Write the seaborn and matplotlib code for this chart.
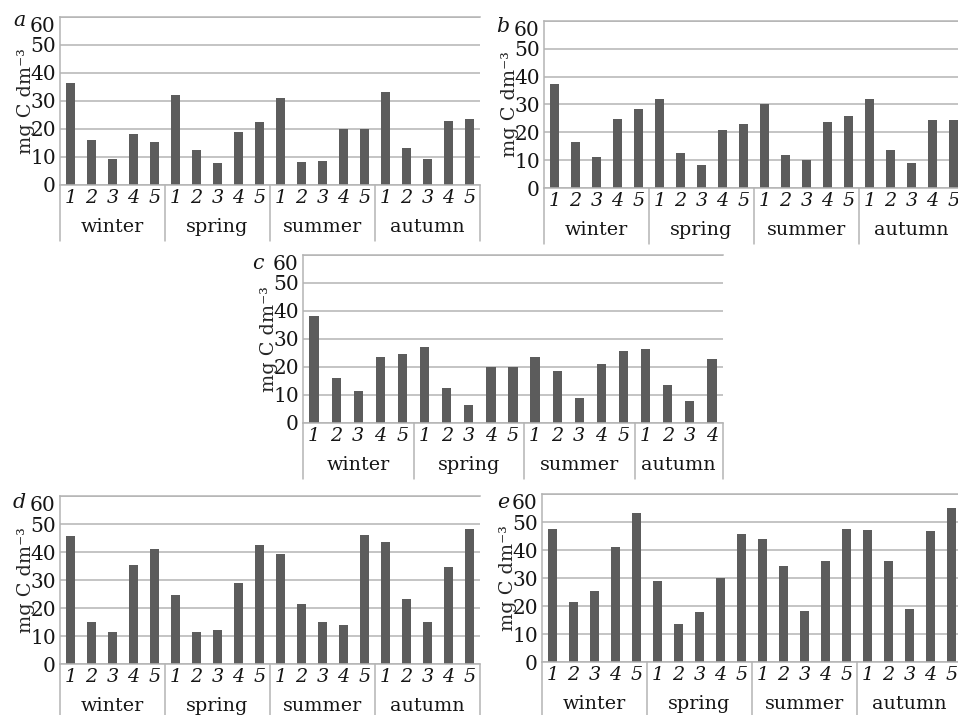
import matplotlib
matplotlib.use('Agg')
import matplotlib.pyplot as plt
import matplotlib.transforms as mtransforms
import seaborn as sns
import pandas as pd

seasons = ["winter", "spring", "summer", "autumn"]
sites = ["1", "2", "3", "4", "5"]

a_winter = [36.5, 16.1, 9.3, 18.2, 15.4]
a_spring = [32.1, 12.5, 7.7, 18.9, 22.6]
a_summer = [31.0, 8.1, 8.6, 20.0, 20.0]
a_autumn = [33.3, 13.3, 9.3, 23.0, 23.5]

b_winter = [37.4, 16.5, 11.0, 24.7, 28.3]
b_spring = [32.1, 12.6, 8.3, 20.7, 23.0]
b_summer = [30.2, 11.7, 9.9, 23.8, 25.9]
b_autumn = [31.9, 13.8, 9.0, 24.3, 24.3]

c_winter = [38.2, 16.2, 11.6, 23.7, 24.6]
c_spring = [27.0, 12.5, 6.4, 19.9, 19.9]
c_summer = [23.7, 18.6, 8.8, 21.2, 25.8]
c_autumn = [26.6, 13.7, 8.0, 22.9]

d_winter = [45.8, 14.9, 11.5, 35.4, 41.0]
d_spring = [24.5, 11.5, 12.0, 28.9, 42.6]
d_summer = [39.3, 21.3, 14.9, 14.0, 46.2]
d_autumn = [43.5, 23.3, 14.9, 34.5, 48.2]

e_winter = [47.4, 21.4, 25.4, 41.1, 53.1]
e_spring = [29.1, 13.7, 17.8, 30.1, 45.6]
e_summer = [43.8, 34.4, 18.3, 35.9, 47.5]
e_autumn = [47.0, 35.9, 19.1, 46.8, 55.1]

panel_letters = ["a", "b", "c", "d", "e"]
panel_data = {
    "a": [a_winter, a_spring, a_summer, a_autumn],
    "b": [b_winter, b_spring, b_summer, b_autumn],
    "c": [c_winter, c_spring, c_summer, c_autumn],
    "d": [d_winter, d_spring, d_summer, d_autumn],
    "e": [e_winter, e_spring, e_summer, e_autumn],
}
y_ticks = [0, 10, 20, 30, 40, 50, 60]
y_label = "mg C dm\u207b\u00b3"

# layout (pixels: left, top, right, bottom of plotting area)
W, H = 958, 715
rects = {
    "a": (60, 17, 480, 185),
    "b": (544, 21, 964, 188),
    "c": (303, 255, 723, 423),
    "d": (60, 496, 480, 664),
    "e": (542, 494, 962, 662),
}
letter_pos = {"a": (19, 21), "b": (503, 26), "c": (258, 263),
              "d": (19, 503), "e": (503, 503)}

BAR = "#5c5c5c"
GRID = "#b4b4b4"
TXT = "#151515"
FS = 13.8

sns.set_style("white")
plt.rcParams["font.family"] = ["DejaVu Serif"]
plt.rcParams["text.color"] = TXT
plt.rcParams["xtick.color"] = TXT
plt.rcParams["ytick.color"] = TXT

fig = plt.figure(figsize=(W / 100, H / 100), dpi=100)

for key in panel_letters:
    l, t, r, b = rects[key]
    ax = fig.add_axes([l / W, 1 - b / H, (r - l) / W, (b - t) / H])
    rows = []
    for s, vals in zip(seasons, panel_data[key]):
        for site, v in zip(sites, vals):
            rows.append({"cat": f"{s}-{site}", "site": site, "season": s, "value": v})
    df = pd.DataFrame(rows)
    n = len(df)
    sns.barplot(data=df, x="cat", y="value", color=BAR, saturation=1,
                width=0.42, linewidth=0, edgecolor="none", ax=ax)
    ax.set_xlim(-0.5, n - 0.5)
    ax.set_ylim(0, 60)
    ax.set_yticks(y_ticks)
    ax.set_yticklabels([str(v) for v in y_ticks], fontsize=FS + 0.7)
    ax.get_yticklabels()[-1].set_va("top")
    ax.grid(axis="y", color=GRID, lw=1.1)
    ax.set_axisbelow(True)
    ax.spines["right"].set_visible(False)
    for sp in ["left", "top", "bottom"]:
        ax.spines[sp].set_color(GRID)
        ax.spines[sp].set_linewidth(1.1)
    ax.set_xticks(range(n))
    ax.set_xticklabels(df["site"], fontstyle="italic", fontsize=FS)
    ax.tick_params(axis="x", length=0, pad=3)
    ax.tick_params(axis="y", length=0, pad=3)
    ax.set_xlabel("")
    ax.set_ylabel(y_label, fontsize=FS)
    ax.yaxis.label.set_va("center")
    ax.yaxis.set_label_coords(-34 / (r - l), 0.5)

    hpx = b - t
    trans = mtransforms.blended_transform_factory(ax.transData, ax.transAxes)
    start = 0
    bounds = [-0.5]
    centers = []
    for s in seasons:
        cnt = int((df["season"] == s).sum())
        centers.append(start + (cnt - 1) / 2)
        start += cnt
        bounds.append(start - 0.5)
    for x in bounds:
        ax.plot([x, x], [0, -56 / hpx], transform=trans, clip_on=False,
                color=GRID, lw=1.1)
    for s, cx in zip(seasons, centers):
        ax.text(cx, -42 / hpx, s, transform=trans, ha="center", va="center",
                fontsize=FS)

    lx, ly = letter_pos[key]
    fig.text(lx / W, 1 - ly / H, key, style="italic", ha="center", va="center",
             fontsize=FS + 1)

fig.savefig("out.png", dpi=100)
